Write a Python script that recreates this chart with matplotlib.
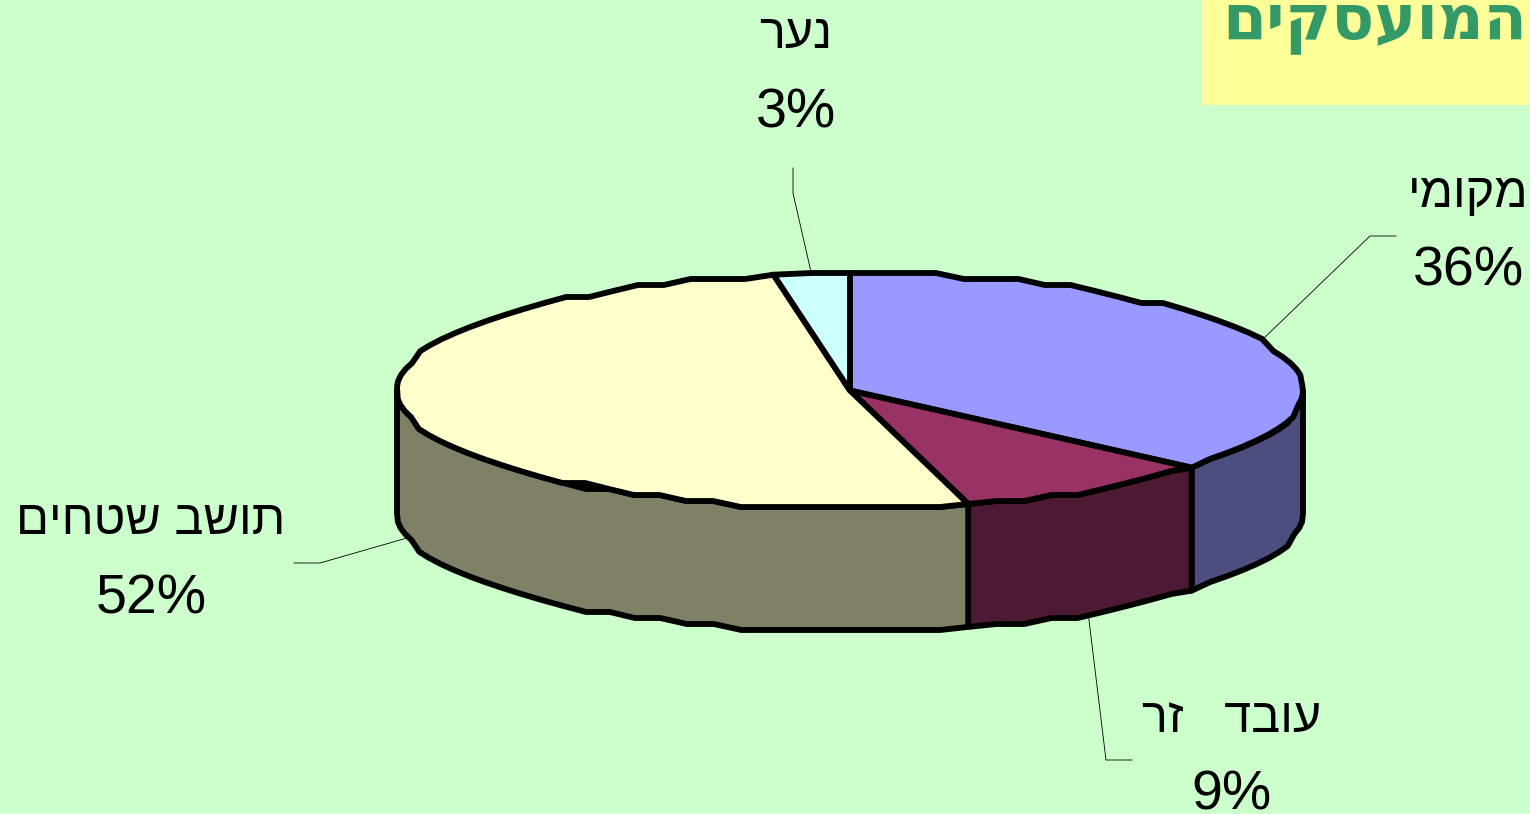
import numpy as np
import matplotlib
matplotlib.use('Agg')
import matplotlib.pyplot as plt

# slice order runs clockwise from 12 o'clock
names = ['מקומי', 'עובד   זר', 'תושב שטחים', 'נער']
values = [36.4, 9.4, 51.5, 2.7]
top_colors = ['#9999FF', '#993366', '#FFFFCC', '#CCFFFF']
side_colors = ['#4D4D80', '#4D1A33', '#808066', '#668080']
title = 'המועסקים'

BG = '#CCFFCC'
CX, CY, RX, RY, DEPTH = 850, 390.5, 453, 117.5, 123
LW = 4.2
STEP_DEG = 3.6
SNAP = 6


def hebrew(s):
    # matplotlib has no bidi, so lay the letters out in visual order
    return s[::-1]


def rim(a0, a1):
    """Rough ellipse edge between two clockwise angles (deg from top)."""
    n = max(int(abs(a1 - a0) / STEP_DEG), 1)
    t = np.radians(np.linspace(a0, a1, n + 1))
    x = CX + RX * np.sin(t)
    y = CY - RY * np.cos(t)
    # the original outline is blocky, snap inner points to a coarse grid
    top = CY - RY
    y[1:-1] = top + np.round((y[1:-1] - top) / SNAP) * SNAP
    return x, y


fig = plt.figure(figsize=(15.3, 8.14), dpi=100, facecolor=BG)
ax = fig.add_axes([0, 0, 1, 1])
ax.set_xlim(0, 1530)
ax.set_ylim(814, 0)
ax.axis('off')

edges = 360 * np.cumsum([0] + values) / sum(values)

# side walls, only the front half of the rim shows
for i in range(len(values)):
    a0, a1 = max(edges[i], 90), min(edges[i + 1], 270)
    if a1 <= a0:
        continue
    x, y = rim(a0, a1)
    ax.fill(np.r_[x, x[::-1]], np.r_[y, y[::-1] + DEPTH], fc=side_colors[i],
            ec='black', lw=LW, joinstyle='round', zorder=2)

# top face
for i in range(len(values)):
    x, y = rim(edges[i], edges[i + 1])
    ax.fill(np.r_[CX, x], np.r_[CY, y], fc=top_colors[i], ec='black', lw=LW,
            joinstyle='round', zorder=3)

# leader lines
leaders = [
    ([1396, 1370, 1262], [236, 236, 340]),
    ([1132, 1106, 1088], [760, 760, 612]),
    ([294, 320, 407], [563, 563, 538]),
    ([793, 793, 811], [168, 193, 272]),
]
for lx, ly in leaders:
    ax.plot(lx, ly, color='black', lw=0.6, zorder=1)

# labels: name above percent
label_pos = [(1468, 195, 272), (1232, 719, 796), (151, 522, 600), (796, 35, 113)]
for name, val, (tx, y0, y1) in zip(names, values, label_pos):
    ax.text(tx, y0, hebrew(name), fontsize=35, family='Liberation Sans',
            ha='center', va='center', zorder=5)
    ax.text(tx, y1, '%d%%' % round(val), fontsize=40, family='Liberation Sans',
            ha='center', va='center', zorder=5)

# title box, cut off at the top of the frame
ax.fill([1202, 1530, 1530, 1202], [0, 0, 105, 105], fc='#FFFF99', ec='none',
        zorder=1)
ax.text(1527, 38.5, hebrew(title), fontsize=45.5, family='DejaVu Sans',
        weight='bold', color='#339966', ha='right', va='baseline', zorder=5)

fig.savefig('out.png', dpi=100, facecolor=BG)
